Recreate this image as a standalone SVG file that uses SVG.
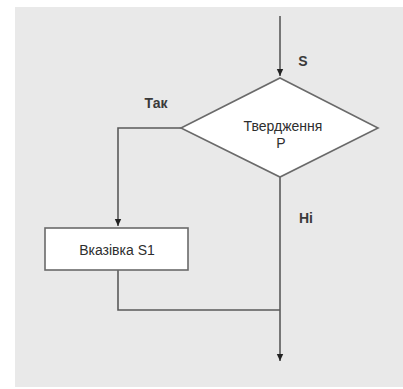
<svg xmlns="http://www.w3.org/2000/svg" width="403" height="389" viewBox="0 0 403 389">
<style>
.ln{fill:none;stroke:#5a5a5a;stroke-width:1.6}
.sh{fill:#fff;stroke:#6a6a6a;stroke-width:1.6}
.t{font-family:"Liberation Sans",Arial,sans-serif;font-size:14px;fill:#2e2e2e}
.lb{font-family:"Liberation Sans",Arial,sans-serif;font-size:14px;font-weight:bold;fill:#3a3a3a}
</style>
<defs>
<marker id="ah" markerWidth="8" markerHeight="8" refX="7" refY="4" orient="auto" markerUnits="userSpaceOnUse">
<path d="M0,0.8 L7,4 L0,7.2 Z" fill="#222"/>
</marker>
</defs>
<rect x="0" y="0" width="403" height="389" fill="#fff"/>
<rect x="15" y="7" width="388" height="380" fill="#e9e9e9"/>
<g id="connectors">
<line class="ln" x1="280" y1="16" x2="280" y2="76" marker-end="url(#ah)"/>
<polyline class="ln" points="181,128 118,128 118,226" marker-end="url(#ah)"/>
<line class="ln" x1="280" y1="177" x2="280" y2="361" marker-end="url(#ah)"/>
<polyline class="ln" points="118,270 118,310 280,310"/>
</g>
<g id="decision">
<polygon class="sh" points="280,78 378,128 280,177 181,128"/>
<text class="t" x="283" y="131" text-anchor="middle">Твердження</text>
<text class="t" x="281" y="148" text-anchor="middle">P</text>
</g>
<g id="s1">
<rect class="sh" x="45" y="228" width="143" height="42"/>
<text class="t" x="117" y="255" text-anchor="middle">Вказівка S1</text>
</g>
<g id="labels">
<text class="lb" x="303" y="66" text-anchor="middle">S</text>
<text class="lb" x="156" y="108" text-anchor="middle">Так</text>
<text class="lb" x="306" y="223" text-anchor="middle">Ні</text>
</g>
</svg>
